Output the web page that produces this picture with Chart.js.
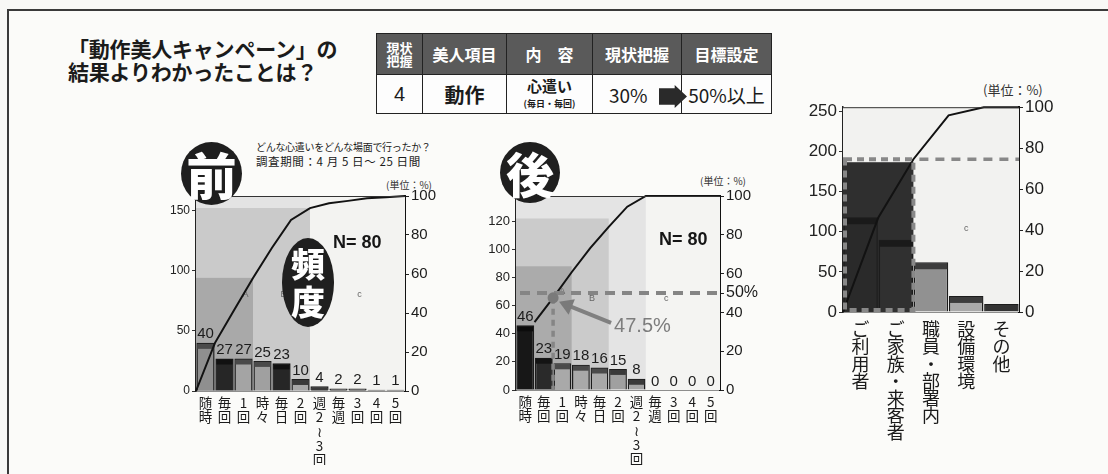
<!DOCTYPE html>
<html lang="ja">
<head>
<meta charset="utf-8">
<title>動作美人キャンペーン</title>
<script src="https://cdn.jsdelivr.net/npm/chart.js@4.4.1/dist/chart.umd.min.js"></script>
<style>
  html, body { margin: 0; padding: 0; }
  body { width: 1108px; height: 474px; overflow: hidden; position: relative; background: #f8f8f6;
         font-family: "Noto Sans CJK JP", sans-serif; color: #1b1b1b; }
  .frame { position: absolute; left: 7px; top: 9px; width: 1120px; height: 480px;
           border-left: 2px solid #3a3a3a; border-top: 2px solid #3a3a3a; background: #fbfbf9; }
  .txt { position: absolute; white-space: nowrap; }
  .title { left: 68px; font-size: 21px; font-weight: 700; line-height: 23px; letter-spacing: -0.2px; }
  .unit { font-size: 10px; color: #333; }
  .nval { font-family: "Liberation Sans", Arial, sans-serif; font-weight: 700; font-size: 18px; color: #161616; }
  canvas { position: absolute; }
  table.goal { position: absolute; left: 376px; top: 33px; border-collapse: collapse; table-layout: fixed; }
  table.goal td { border: 1.5px solid #222; text-align: center; padding: 0; }
  table.goal tr.hd td { background: #5a5a5a; color: #fff; font-weight: 700; font-size: 16px; height: 40px; }
  table.goal tr.bd td { background: #fdfdfd; font-weight: 700; font-size: 20px; height: 38px; }
  .badge { position: absolute; border-radius: 50%; background: #1f1f1f; color: #fff; font-weight: 900; text-align: center; z-index: 2; }
  .arrow { position: absolute; left: 659px; top: 85px; width: 28px; height: 23px; background: #2a2a2a;
           clip-path: polygon(0 14%, 56% 14%, 56% 0, 100% 50%, 56% 100%, 56% 86%, 0 86%); }
</style>
</head>
<body>
<div class="frame"></div>

<div class="txt title" style="top:37px;">「動作美人キャンペーン」の</div>
<div class="txt title" style="top:60px;">結果よりわかったことは？</div>

<table class="goal">
  <colgroup><col style="width:46px"><col style="width:84px"><col style="width:86px"><col style="width:89px"><col style="width:90px"></colgroup>
  <tr class="hd">
    <td style="font-size:13px;line-height:13px;">現状<br>把握</td>
    <td>美人項目</td><td>内　容</td><td>現状把握</td><td>目標設定</td>
  </tr>
  <tr class="bd">
    <td style="font-family:'Liberation Sans',Arial,sans-serif;font-weight:400;">4</td>
    <td>動作</td>
    <td style="font-size:15px;line-height:15px;">心遣い<br><span style="font-size:9px;">(毎日・毎回)</span></td>
    <td style="font-weight:400;font-size:19px;text-align:left;padding-left:16px;">30%</td>
    <td style="font-weight:400;font-size:19px;">50%以上</td>
  </tr>
</table>
<div class="arrow"></div>

<div class="txt" style="left:256px;top:139px;font-size:10px;letter-spacing:-0.3px;">どんな心遣いをどんな場面で行ったか？</div>
<div class="txt" style="left:256px;top:153px;font-size:11.5px;letter-spacing:0.6px;">調査期間：4 月 5 日～ 25 日間</div>
<div class="txt unit" style="left:386px;top:177px;">(単位：%)</div>
<div class="txt unit" style="left:700px;top:173px;">(単位：%)</div>
<div class="txt unit" style="left:983px;top:80px;font-size:13px;">(単位：%)</div>

<canvas id="beforeChart" width="285" height="280" style="left:160px;top:185px;"></canvas>
<canvas id="afterChart" width="280" height="280" style="left:480px;top:185px;"></canvas>
<canvas id="targetChart" width="275" height="365" style="left:795px;top:95px;"></canvas>

<div class="badge" style="left:181px;top:142px;width:61px;height:63px;font-size:50px;line-height:62px;">前</div>
<div class="badge" style="left:500px;top:142px;width:60px;height:61px;font-size:48px;line-height:60px;">後</div>
<div class="badge" style="left:282px;top:238px;width:52px;height:89px;font-size:34px;line-height:38px;padding-top:6px;box-sizing:border-box;">頻<br>度</div>
<div class="txt nval" style="left:333px;top:232px;">N= 80</div>
<div class="txt nval" style="left:659px;top:229px;">N= 80</div>

<script>
// ---- data ----
const beforeCategories = ['随時', '毎回', '1回', '時々', '毎日', '2回', '週2〜3回', '毎週', '3回', '4回', '5回'];
const beforeValues = [40, 27, 27, 25, 23, 10, 4, 2, 2, 1, 1];
const beforeCumulative = [0, 24.7, 41.4, 58.0, 73.5, 87.7, 93.8, 96.3, 97.5, 98.8, 99.4, 100];
const beforeLeftTicks = [0, 50, 100, 150];

const afterCategories = ['随時', '毎回', '1回', '時々', '毎日', '2回', '週2〜3回', '毎週', '3回', '4回', '5回'];
const afterValues = [46, 23, 19, 18, 16, 15, 8, 0, 0, 0, 0];
const afterCumulative = [null, 35, 47.5, 60.7, 73.1, 84.1, 94.5, 100, 100, 100, 100, 100];
const afterLeftTicks = [0, 20, 40, 60, 80, 100, 120];

const targetCategories = ['ご利用者', 'ご家族・来客者', '職員・部署内', '設備環境', 'その他'];
const targetValues = [118, 90, 62, 20, 10];
const targetCumulative = [0, 46, 74.6, 96, 100, 100];
const targetLeftTicks = [0, 50, 100, 150, 200, 250];

const pctTicks = [0, 20, 40, 60, 80, 100];
const pctTicksWithGoal = [0, 20, 40, 50, 60, 80, 100];

const CJK = '"Noto Sans CJK JP", sans-serif';
const LAT = '"Liberation Sans", Arial, sans-serif';

function verticalLabel(s) {
    return Array.from(s).map(c => c === '〜' ? '≀' : c);
}

// regions, extra lines and labels drawn through the chart scales
const paretoDecor = {
    id: 'paretoDecor',
    beforeDatasetsDraw(chart, args, opts) {
        const { ctx, chartArea: a, scales } = chart;
        const xs = scales.x2, yl = scales.yL;
        ctx.save();
        (opts.regions || []).forEach(r => {
            const x0 = xs.getPixelForValue(0), x1 = xs.getPixelForValue(r.end);
            const y1 = yl.getPixelForValue(r.top);
            ctx.fillStyle = r.color;
            ctx.fillRect(x0, y1, x1 - x0, a.bottom - y1);
        });
        ctx.fillStyle = '#666';
        ctx.font = '9px ' + LAT;
        ctx.textAlign = 'center';
        ctx.textBaseline = 'middle';
        (opts.letters || []).forEach(l => {
            ctx.fillText(l.t, xs.getPixelForValue(l.x), yl.getPixelForValue(l.y));
        });
        ctx.restore();
    },
    afterDatasetDraw(chart, args, opts) {
        if (args.index !== 0) return;
        const { ctx } = chart;
        const meta = args.meta;
        ctx.save();
        meta.data.forEach((bar, i) => {
            const v = chart.data.datasets[0].data[i];
            const w = bar.width;
            const h = bar.base - bar.y;
            if (v > 0 && opts.band) {
                ctx.fillStyle = opts.bandColors[i];
                ctx.fillRect(bar.x - w / 2 + 1, bar.y + 1, w - 2, Math.min(opts.band, h - 1));
            }
            if (opts.showValues) {
                ctx.fillStyle = '#1c1c1c';
                ctx.font = '15px ' + LAT;
                ctx.textAlign = 'center';
                ctx.textBaseline = 'bottom';
                ctx.fillText(String(v), bar.x, bar.y - 1);
            }
        });
        ctx.restore();
    },
    afterDatasetsDraw(chart, args, opts) {
        const { ctx, chartArea: a, scales } = chart;
        const xs = scales.x2, yr = scales.yR;
        ctx.save();
        // plot frame top
        ctx.strokeStyle = '#333';
        ctx.lineWidth = 1;
        ctx.beginPath();
        ctx.moveTo(a.left, a.top + 0.5);
        ctx.lineTo(a.right, a.top + 0.5);
        ctx.stroke();

        if (opts.goal) {
            const gy = yr.getPixelForValue(opts.goal.pct);
            ctx.strokeStyle = '#858585';
            ctx.lineWidth = 4;
            ctx.setLineDash([10, 7]);
            ctx.beginPath();
            ctx.moveTo(a.left + 4, gy);
            ctx.lineTo(a.right, gy);
            ctx.stroke();
            const mx = xs.getPixelForValue(opts.goal.edge);
            const my = yr.getPixelForValue(opts.goal.markPct);
            ctx.lineWidth = 3.5;
            ctx.setLineDash([6, 5]);
            ctx.beginPath();
            ctx.moveTo(mx, my);
            ctx.lineTo(mx, a.bottom);
            ctx.stroke();
            ctx.setLineDash([]);
            ctx.fillStyle = '#7a7a7a';
            ctx.beginPath();
            ctx.arc(mx, my, 5.5, 0, Math.PI * 2);
            ctx.fill();
            // arrow from the label to the marker
            const tx = mx + 58, ty = my + 25, hx = mx + 6, hy = my + 4;
            const ang = Math.atan2(hy - ty, hx - tx);
            ctx.strokeStyle = '#808080';
            ctx.lineWidth = 4;
            ctx.beginPath();
            ctx.moveTo(tx, ty);
            ctx.lineTo(hx - Math.cos(ang) * 10, hy - Math.sin(ang) * 10);
            ctx.stroke();
            ctx.beginPath();
            ctx.moveTo(hx, hy);
            ctx.lineTo(hx - Math.cos(ang - 0.55) * 16, hy - Math.sin(ang - 0.55) * 16);
            ctx.lineTo(hx - Math.cos(ang + 0.55) * 16, hy - Math.sin(ang + 0.55) * 16);
            ctx.closePath();
            ctx.fill();
            ctx.fillStyle = '#7d7d7d';
            ctx.font = '20px ' + LAT;
            ctx.textAlign = 'left';
            ctx.textBaseline = 'middle';
            ctx.fillText(opts.goal.label, mx + 61, my + 29);
        }

        if (opts.focus) {
            const fx = xs.getPixelForValue(opts.focus.end);
            const fy = yr.getPixelForValue(opts.focus.pct);
            ctx.strokeStyle = '#888';
            ctx.lineWidth = 4;
            ctx.setLineDash([7, 5]);
            ctx.strokeRect(a.left + 2, fy, fx - a.left - 2, a.bottom - fy - 2);
            ctx.lineWidth = 3.5;
            ctx.setLineDash([9, 7]);
            ctx.beginPath();
            ctx.moveTo(fx + 6, fy);
            ctx.lineTo(a.right, fy);
            ctx.stroke();
        }
        ctx.restore();
    }
};

function buildPareto(id, cfg) {
    const n = cfg.categories.length;
    return new Chart(document.getElementById(id), {
        type: 'bar',
        data: {
            labels: cfg.categories.map(verticalLabel),
            datasets: [{
                type: 'bar',
                data: cfg.values,
                xAxisID: 'x',
                yAxisID: 'yL',
                backgroundColor: cfg.barColors,
                borderColor: '#1c1c1c',
                borderWidth: 1.5,
                grouped: false,
                barPercentage: 1,
                categoryPercentage: cfg.catPct,
                order: 1
            }, {
                type: 'line',
                data: cfg.cumulative.map((v, i) => ({ x: i, y: v })),
                xAxisID: 'x2',
                yAxisID: 'yR',
                borderColor: '#121212',
                borderWidth: 2,
                pointRadius: 0,
                tension: 0,
                fill: false,
                clip: false,
                order: 0
            }]
        },
        options: {
            responsive: false,
            animation: false,
            devicePixelRatio: 1,
            layout: { padding: { top: cfg.padTop, left: 0, right: 0, bottom: 0 } },
            plugins: {
                legend: { display: false },
                tooltip: { enabled: false },
                paretoDecor: cfg.decor
            },
            scales: {
                x: {
                    type: 'category',
                    offset: true,
                    grid: { display: false, drawTicks: false },
                    border: { display: true, color: '#222', width: 1.5 },
                    ticks: {
                        autoSkip: false,
                        maxRotation: 0,
                        padding: cfg.xPad,
                        color: '#1b1b1b',
                        font: { family: CJK, size: cfg.xFont, lineHeight: cfg.xLine }
                    },
                    afterFit: s => { s.height = cfg.xHeight; }
                },
                x2: { type: 'linear', display: false, min: 0, max: n, offset: false },
                yL: {
                    position: 'left',
                    min: 0,
                    max: cfg.leftMax,
                    afterBuildTicks: s => { s.ticks = cfg.leftTicks.map(v => ({ value: v })); },
                    grid: { drawOnChartArea: false, tickLength: 4, color: '#333' },
                    border: { color: '#222', width: 1.5 },
                    ticks: { padding: 2, color: '#222', font: { family: LAT, size: cfg.leftFont } },
                    afterFit: s => { s.width = cfg.leftWidth; }
                },
                yR: {
                    position: 'right',
                    min: 0,
                    max: 100,
                    afterBuildTicks: s => { s.ticks = cfg.rightTicks.map(v => ({ value: v })); },
                    grid: { drawOnChartArea: false, tickLength: 4, color: '#222' },
                    border: { color: '#111', width: 2 },
                    ticks: {
                        padding: 2,
                        color: '#1b1b1b',
                        font: ctx => ({ family: LAT, size: (ctx.tick && ctx.tick.value === 50) ? 16 : cfg.rightFont }),
                        callback: v => v === 50 ? '50%' : v
                    },
                    afterFit: s => { s.width = cfg.rightWidth; }
                }
            }
        },
        plugins: [paretoDecor]
    });
}

try {
    buildPareto('beforeChart', {
        categories: beforeCategories,
        values: beforeValues,
        cumulative: beforeCumulative,
        leftMax: 162,
        leftTicks: beforeLeftTicks,
        rightTicks: pctTicks,
        barColors: ['#8f8f8f', '#262626', '#a4a4a4', '#a0a0a0', '#262626', '#a8a8a8', '#9a9a9a', '#8a8a8a', '#8a8a8a', '#8a8a8a', '#8a8a8a'],
        catPct: 0.96,
        padTop: 10, leftWidth: 36, rightWidth: 40, xHeight: 74,
        xPad: 5, xFont: 13.5, xLine: 1.05, leftFont: 12, rightFont: 15,
        decor: {
            regions: [
                { end: 11, top: 162, color: '#f3f3f1' },
                { end: 6, top: 162, color: '#e3e3e3' },
                { end: 6, top: 152, color: '#cacaca' },
                { end: 3, top: 94, color: '#a9a9a9' }
            ],
            letters: [{ t: 'A', x: 2.6, y: 80 }, { t: 'B', x: 4.6, y: 80 }, { t: 'c', x: 8.6, y: 80 }],
            band: 5,
            bandColors: ['#4a4a4a', '#111', '#4a4a4a', '#4a4a4a', '#111', '#3a3a3a', '#3a3a3a', '#3a3a3a', '#3a3a3a', '#3a3a3a', '#3a3a3a'],
            showValues: true
        }
    });

    buildPareto('afterChart', {
        categories: afterCategories,
        values: afterValues,
        cumulative: afterCumulative,
        leftMax: 138,
        leftTicks: afterLeftTicks,
        rightTicks: pctTicksWithGoal,
        barColors: ['#171717', '#2a2a2a', '#a9a9a9', '#a9a9a9', '#a9a9a9', '#a0a0a0', '#a5a5a5', '#888', '#888', '#888', '#888'],
        catPct: 0.96,
        padTop: 10, leftWidth: 36, rightWidth: 40, xHeight: 75,
        xPad: 5, xFont: 13.5, xLine: 1.05, leftFont: 13, rightFont: 15,
        decor: {
            regions: [
                { end: 11, top: 138, color: '#f4f4f2' },
                { end: 7, top: 138, color: '#e4e4e4' },
                { end: 5, top: 122, color: '#cbcbcb' },
                { end: 3, top: 88, color: '#ababab' }
            ],
            letters: [{ t: 'A', x: 2.5, y: 70 }, { t: 'B', x: 4.1, y: 65 }, { t: 'c', x: 8.1, y: 65 }],
            band: 5,
            bandColors: ['#0c0c0c', '#141414', '#4a4a4a', '#4a4a4a', '#4a4a4a', '#3a3a3a', '#3a3a3a', '#333', '#333', '#333', '#333'],
            showValues: true,
            goal: { pct: 50, edge: 2, markPct: 47.5, label: '47.5%' }
        }
    });

    buildPareto('targetChart', {
        categories: targetCategories,
        values: targetValues,
        cumulative: targetCumulative,
        leftMax: 255,
        leftTicks: targetLeftTicks,
        rightTicks: pctTicks,
        barColors: ['#2a2a2a', '#303030', '#919191', '#a9a9a9', '#5c5c5c'],
        catPct: 0.98,
        padTop: 12, leftWidth: 48, rightWidth: 51, xHeight: 148,
        xPad: 9, xFont: 18, xLine: 0.95, leftFont: 17, rightFont: 17,
        decor: {
            regions: [
                { end: 5, top: 255, color: '#f2f2f0' },
                { end: 2, top: 186.5, color: '#2f2f2f' }
            ],
            letters: [{ t: 'c', x: 3.5, y: 104 }],
            band: 6,
            bandColors: ['#1a1a1a', '#1a1a1a', '#3c3c3c', '#3c3c3c', '#333'],
            showValues: false,
            focus: { end: 2, pct: 74.6 }
        }
    });
} catch (error) {
    console.error('Error drawing pareto charts:', error);
}
</script>
</body>
</html>
